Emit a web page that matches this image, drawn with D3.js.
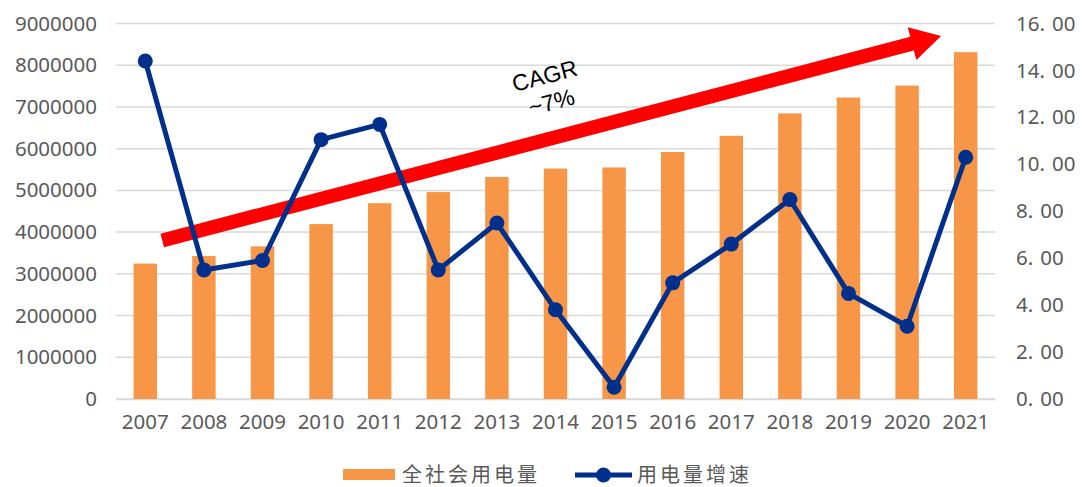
<!DOCTYPE html>
<html>
<head>
<meta charset="utf-8">
<script src="https://cdn.jsdelivr.net/npm/d3@7"></script>
<style>
  body { margin: 0; background: #fff; }
  .tick text { fill: #595959; }
</style>
</head>
<body>
<svg id="chart"></svg>
<script>
// data
const years = ['2007','2008','2009','2010','2011','2012','2013','2014','2015','2016','2017','2018','2019','2020','2021'];
const consumption = [3245800, 3426800, 3659500, 4192300, 4692800, 4959100, 5322300, 5523300, 5550000, 5919800, 6307700, 6844900, 7225500, 7511000, 8312800];
const growth = [14.4, 5.5, 5.9, 11.05, 11.7, 5.5, 7.5, 3.8, 0.5, 4.95, 6.6, 8.5, 4.5, 3.1, 10.3];
const leftTicks = [0, 1000000, 2000000, 3000000, 4000000, 5000000, 6000000, 7000000, 8000000, 9000000];
const rightTicks = [0, 2, 4, 6, 8, 10, 12, 14, 16];
const seriesNames = ['全社会用电量', '用电量增速'];

const width = 1088, height = 487;
const margin = {top: 23.5, right: 93, bottom: 88, left: 116};
const w = width - margin.left - margin.right;
const h = height - margin.top - margin.bottom;

const barColor = '#F79646', lineColor = '#00308C', gridColor = '#D9D9D9';
const numFont = '"Noto Sans", "DejaVu Sans", sans-serif';

const svg = d3.select('#chart').attr('width', width).attr('height', height);
const chart = svg.append('g').attr('transform', `translate(${margin.left},${margin.top})`);

const x = d3.scaleBand().domain(years).range([0, w]).paddingInner(0.6).paddingOuter(0.3);
const yL = d3.scaleLinear().domain([0, 9000000]).range([h, 0]);
const yR = d3.scaleLinear().domain([0, 16]).range([h, 0]);

// gridlines
chart.append('g').selectAll('line')
  .data(leftTicks)
  .join('line')
  .attr('x1', 0).attr('x2', w)
  .attr('y1', d => yL(d)).attr('y2', d => yL(d))
  .attr('stroke', gridColor).attr('stroke-width', 1.5);

// left axis
const yAxisL = chart.append('g')
  .call(d3.axisLeft(yL).tickValues(leftTicks).tickFormat(d3.format('d')).tickSize(0).tickPadding(19));
yAxisL.select('.domain').remove();
yAxisL.selectAll('text').style('font-family', numFont).style('font-size', '20.5px');

// right axis, decimal part set off like the original
const yAxisR = chart.append('g').attr('transform', `translate(${w},0)`)
  .call(d3.axisRight(yR).tickValues(rightTicks).tickFormat('').tickSize(0));
yAxisR.select('.domain').remove();
yAxisR.selectAll('.tick').each(function(d) {
  const parts = d.toFixed(2).split('.');
  const t = d3.select(this).select('text')
    .attr('x', 21).attr('dy', '0.32em')
    .style('font-family', numFont).style('font-size', '20.5px');
  t.append('tspan').text(parts[0] + '.');
  t.append('tspan').attr('dx', 7).text(parts[1]);
});

// x axis
const xAxis = chart.append('g').attr('transform', `translate(0,${h})`)
  .call(d3.axisBottom(x).tickSize(0).tickPadding(15));
xAxis.select('.domain').attr('stroke', gridColor).attr('stroke-width', 1.5);
xAxis.selectAll('text').style('font-family', numFont).style('font-size', '20.5px');

// bars
chart.append('g').selectAll('rect')
  .data(years)
  .join('rect')
  .attr('x', d => x(d))
  .attr('width', x.bandwidth())
  .attr('y', (d, i) => yL(consumption[i]))
  .attr('height', (d, i) => h - yL(consumption[i]))
  .attr('fill', barColor);

// trend arrow (annotation)
const step = x.step();
const ax1 = x('2007') + x.bandwidth() / 2 + step * 0.29, ay1 = yL(3800000);
const ax2 = x('2020') + x.bandwidth() / 2 + step * 0.58, ay2 = yL(8700000);
const ang = Math.atan2(ay2 - ay1, ax2 - ax1);
const headLen = 30, headW = 17, shaft = 7;
const bx = ax2 - headLen * Math.cos(ang), by = ay2 - headLen * Math.sin(ang);
const nx = -Math.sin(ang), ny = Math.cos(ang);
chart.append('path')
  .attr('d', [
    [ax1 + nx * shaft, ay1 + ny * shaft],
    [bx + nx * shaft, by + ny * shaft],
    [bx + nx * headW, by + ny * headW],
    [ax2, ay2],
    [bx - nx * headW, by - ny * headW],
    [bx - nx * shaft, by - ny * shaft],
    [ax1 - nx * shaft, ay1 - ny * shaft]
  ].map((p, i) => (i ? 'L' : 'M') + p[0] + ',' + p[1]).join('') + 'Z')
  .attr('fill', '#FF0000');

// CAGR label
const label = chart.append('text')
  .attr('transform', `translate(${x('2013') + x.bandwidth() / 2 + step * 0.85},${yL(7560000)}) rotate(${ang * 180 / Math.PI})`)
  .attr('text-anchor', 'middle')
  .style('font-family', '"Liberation Sans", Arial, sans-serif')
  .style('font-size', '23px')
  .attr('fill', '#000');
label.append('tspan').attr('x', 0).attr('y', 0).text('CAGR');
label.append('tspan').attr('x', 0).attr('dy', 27).text('~7%');

// growth line
const line = d3.line()
  .x((d, i) => x(years[i]) + x.bandwidth() / 2)
  .y(d => yR(d));
chart.append('path')
  .datum(growth)
  .attr('d', line)
  .attr('fill', 'none')
  .attr('stroke', lineColor)
  .attr('stroke-width', 5)
  .attr('stroke-linejoin', 'round');
chart.append('g').selectAll('circle')
  .data(growth)
  .join('circle')
  .attr('cx', (d, i) => x(years[i]) + x.bandwidth() / 2)
  .attr('cy', d => yR(d))
  .attr('r', 7.5)
  .attr('fill', lineColor);

// legend
const legend = svg.append('g').attr('transform', 'translate(343,475)');
legend.append('rect').attr('x', 0).attr('y', -6).attr('width', 52).attr('height', 11).attr('fill', barColor);
legend.append('text').attr('x', 59).attr('dy', '0.35em').text(seriesNames[0]);
legend.append('line').attr('x1', 232).attr('x2', 289).attr('y1', 0).attr('y2', 0)
  .attr('stroke', lineColor).attr('stroke-width', 5);
legend.append('circle').attr('cx', 260.5).attr('cy', 0).attr('r', 7.5).attr('fill', lineColor);
legend.append('text').attr('x', 294).attr('dy', '0.35em').text(seriesNames[1]);
legend.selectAll('text')
  .attr('fill', '#595959')
  .style('font-family', '"Noto Sans CJK SC", sans-serif')
  .style('font-size', '20px')
  .style('letter-spacing', '3px');
</script>
</body>
</html>
